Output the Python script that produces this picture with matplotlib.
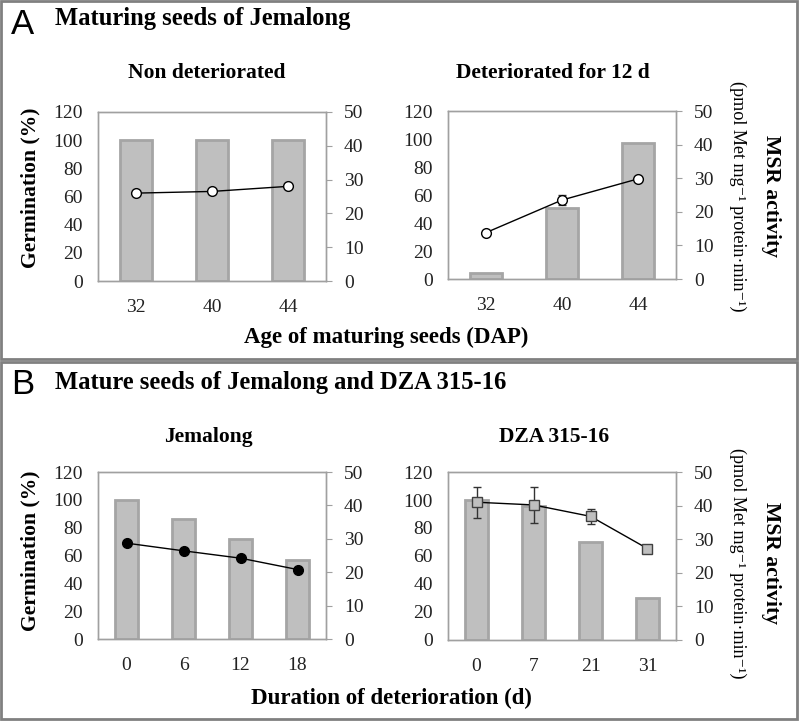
"""
Germination (bars) and MSR activity (line) for maturing and mature seeds.

Output: out.png
"""

import matplotlib
matplotlib.use("Agg")
import matplotlib.pyplot as plt
from matplotlib.patches import Rectangle

plt.rcParams["font.family"] = ["Liberation Serif", "DejaVu Serif"]

# Panel A: maturing seeds of Jemalong (DAP)
A_AGES = ["32", "40", "44"]
A_NONDET_GERM = [100, 100, 100]
A_NONDET_MSR = [26.0, 26.5, 28.0]
A_NONDET_ERR = [0.5, 0.8, 0.5]
A_DET_GERM = [4, 51, 97]
A_DET_MSR = [13.8, 23.5, 29.8]
A_DET_ERR = [0.5, 1.5, 0.5]

# Panel B: mature seeds, duration of deterioration (d)
B_JEM_DAYS = ["0", "6", "12", "18"]
B_JEM_GERM = [100, 86, 72, 57]
B_JEM_MSR = [28.7, 26.4, 24.2, 20.8]
B_JEM_ERR = [0.5, 0.5, 0.5, 0.5]
B_DZA_DAYS = ["0", "7", "21", "31"]
B_DZA_GERM = [100, 96, 70, 30]
B_DZA_MSR = [41.0, 40.2, 36.8, 27.2]
B_DZA_ERR = [4.6, 5.4, 2.3, 1.1]

W, H = 799, 721
SPINE = "#A0A0A0"
TXT = "#222222"
TICK_FS = 14

fig = plt.figure(figsize=(W / 100, H / 100), dpi=100)


def box(x0, y0, x1, y1):
    # pixel box (y from top) -> figure fraction rect
    return [x0 / W, 1 - y1 / H, (x1 - x0) / W, (y1 - y0) / H]


def ftext(x, y, s, **kw):
    fig.text(x / W, 1 - y / H, s, **kw)


def panel(rect, cats, germ, msr, err, mstyle):
    ax = fig.add_axes(rect)
    xs = range(len(cats))
    ax.bar(xs, germ, width=0.42, color="#BFBFBF", edgecolor="#A5A5A5",
           linewidth=2, zorder=2)
    ax.set_xlim(-0.5, len(cats) - 0.5)
    ax.set_ylim(0, 120)
    ax.set_yticks(range(0, 121, 20))
    ax.set_xticks(list(xs))
    ax.set_xticklabels(cats)
    ax.tick_params(axis="both", length=0, labelsize=TICK_FS, colors=TXT)
    ax.tick_params(axis="y", pad=11)
    ax.tick_params(axis="x", pad=13)
    for sp in ax.spines.values():
        sp.set_color(SPINE)
        sp.set_linewidth(1)

    ax2 = ax.twinx()
    ax2.errorbar(xs, msr, yerr=err, color="black", linewidth=1,
                 ecolor="#333333", elinewidth=1, capsize=3, zorder=3,
                 **mstyle)
    ax2.set_ylim(0, 50)
    ax2.set_yticks(range(0, 51, 10))
    ax2.tick_params(axis="y", direction="out", length=4, color=SPINE,
                    labelsize=TICK_FS, labelcolor=TXT, pad=9)
    for sp in ax2.spines.values():
        sp.set_color(SPINE)
        sp.set_linewidth(1)
    return ax, ax2


open_circle = dict(marker="o", markersize=7, markerfacecolor="white",
                   markeredgecolor="black", markeredgewidth=1)
black_circle = dict(marker="o", markersize=7, markerfacecolor="black",
                    markeredgecolor="black")
grey_square = dict(marker="s", markersize=7, markerfacecolor="#BFBFBF",
                   markeredgecolor="#404040", markeredgewidth=1)

panel(box(98, 112, 326, 281), A_AGES, A_NONDET_GERM, A_NONDET_MSR,
      A_NONDET_ERR, open_circle)
panel(box(448, 111, 676, 279), A_AGES, A_DET_GERM, A_DET_MSR,
      A_DET_ERR, open_circle)
panel(box(98, 472, 326, 639), B_JEM_DAYS, B_JEM_GERM, B_JEM_MSR,
      B_JEM_ERR, black_circle)
panel(box(448, 472, 676, 640), B_DZA_DAYS, B_DZA_GERM, B_DZA_MSR,
      B_DZA_ERR, grey_square)

# panel frames
for y0, y1 in [(1, 359), (362, 719)]:
    fig.add_artist(Rectangle((1 / W, 1 - y1 / H), (W - 3) / W, (y1 - y0) / H,
                             transform=fig.transFigure, fill=False,
                             edgecolor="#808080", linewidth=2))

# headings
letter = dict(family="Liberation Sans", fontsize=25, ha="left", va="center")
head = dict(fontsize=17.7, fontweight="bold", ha="left", va="center")
sub = dict(fontsize=15.5, fontweight="bold", ha="center", va="center")
ftext(11, 24, "A", **letter)
ftext(55, 19, "Maturing seeds of Jemalong", **head)
ftext(11, 385, "B", **letter)
ftext(55, 383, "Mature seeds of Jemalong and DZA 315-16", **head)
ftext(207, 73, "Non deteriorated", **sub)
ftext(553, 73, "Deteriorated for 12 d", **sub)
ftext(208, 437, "Jemalong", **sub)
ftext(554, 437, "DZA 315-16", **sub)

# axis labels
unit = "(pmol Met mg\u207b\u00b9 protein\u00b7min\u207b\u00b9)"
for yc in (188, 551):
    ftext(30, yc, "Germination (%)", fontsize=15.6, fontweight="bold",
          rotation=90, ha="center", va="center")
for yc in (196, 563):
    ftext(738, yc, unit, fontsize=13.1, rotation=-90, ha="center",
          va="center")
    ftext(771, yc, "MSR activity", fontsize=15.6, fontweight="bold",
          rotation=-90, ha="center", va="center")
ftext(386, 337, "Age of maturing seeds (DAP)", fontsize=16.5,
      fontweight="bold", ha="center", va="center")
ftext(391, 698, "Duration of deterioration (d)", fontsize=16.5,
      fontweight="bold", ha="center", va="center")

fig.savefig("out.png", dpi=100)
